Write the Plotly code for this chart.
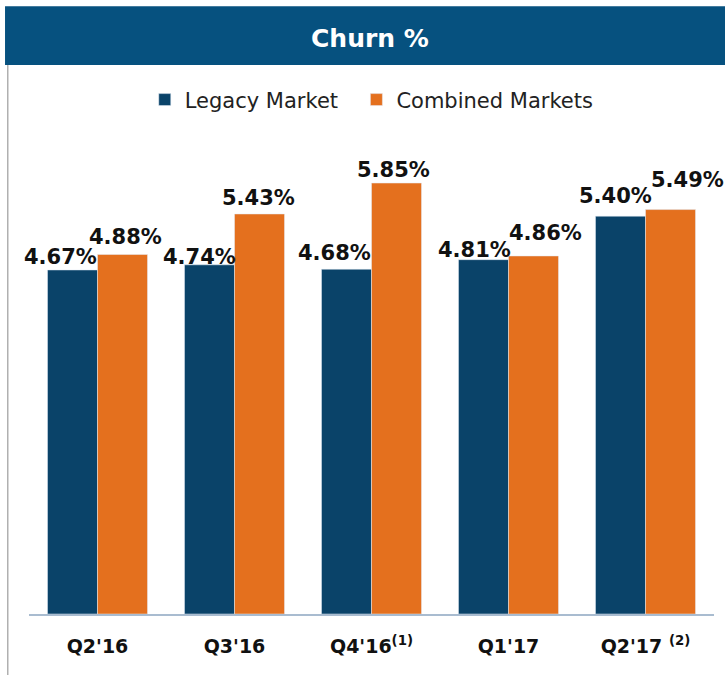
import plotly.graph_objects as go

categories = ["Q2'16", "Q3'16", "Q4'16<sup>(1)</sup>", "Q1'17", "Q2'17 <sup>(2)</sup>"]
series_names = ["Legacy Market", "Combined Markets"]
legacy = [4.67, 4.74, 4.68, 4.81, 5.40]
combined = [4.88, 5.43, 5.85, 4.86, 5.49]
legacy_labels = ["4.67%", "4.74%", "4.68%", "4.81%", "5.40%"]
combined_labels = ["4.88%", "5.43%", "5.85%", "4.86%", "5.49%"]

# label placement offsets relative to each bar's top centre (pixels)
legacy_dx = [-12, -10, -12, -9, -5]
legacy_dy = [-1, -6, 2, -4, 6]
combined_dx = [3, -1, -3, 12, 17]
combined_dy = [4, 2, -1, 9, 16]

BLUE = "#0a4369"
ORANGE = "#e4701e"
BAR_TITLE = "#06517f"
FONT = "DejaVu Sans"
BAR_HALF = 25  # half of a bar width in px, used to anchor labels over each bar
PAD = "\u00a0\u00a0"  # extra legend spacing after first entry

fig = go.Figure()
fig.add_trace(go.Bar(x=categories, y=legacy, name=series_names[0] + PAD, marker_color=BLUE))
fig.add_trace(go.Bar(x=categories, y=combined, name=series_names[1], marker_color=ORANGE))

annotations = []
for i, c in enumerate(categories):
    annotations.append(dict(x=c, y=legacy[i], text="<b>%s</b>" % legacy_labels[i], showarrow=False,
                            xref="x", yref="y", xanchor="center", yanchor="bottom",
                            xshift=-BAR_HALF + legacy_dx[i], yshift=legacy_dy[i],
                            font=dict(family=FONT, size=21, color="#111111")))
    annotations.append(dict(x=c, y=combined[i], text="<b>%s</b>" % combined_labels[i], showarrow=False,
                            xref="x", yref="y", xanchor="center", yanchor="bottom",
                            xshift=BAR_HALF + combined_dx[i], yshift=combined_dy[i],
                            font=dict(family=FONT, size=21, color="#111111")))

annotations.append(dict(x=0.498, y=1.303, xref="paper", yref="paper", text="<b>Churn %</b>",
                        showarrow=False, xanchor="center", yanchor="middle",
                        font=dict(family=FONT, size=25, color="white")))

shapes = [
    dict(type="rect", xref="paper", yref="paper", x0=-0.035, x1=1.02, y0=1.242, y1=1.375,
         fillcolor=BAR_TITLE, line=dict(width=0), layer="below"),
    dict(type="line", xref="paper", yref="paper", x0=-0.031, x1=-0.031, y0=1.242, y1=-0.14,
         line=dict(color="#b0b0b0", width=1.5)),
]

fig.update_layout(
    width=725, height=675,
    margin=dict(l=29, r=11, t=172, b=61, autoexpand=False),
    paper_bgcolor="white", plot_bgcolor="white",
    barmode="group", bargap=0.27, bargroupgap=0,
    showlegend=True,
    legend=dict(orientation="h", x=0.169, y=1.163, xanchor="left", yanchor="middle",
                font=dict(family=FONT, size=21, color="#222222"), itemwidth=30,
                traceorder="normal", bgcolor="rgba(0,0,0,0)"),
    xaxis=dict(showline=True, linecolor="#a9bcd0", linewidth=1.5, ticks="",
               range=[-0.5, 4.5], automargin=False,
               tickfont=dict(family=FONT, size=19, color="#111111", weight="bold"), showgrid=False),
    yaxis=dict(range=[0, 6], visible=False, showgrid=False, automargin=False),
    annotations=annotations,
    shapes=shapes,
)
fig.update_xaxes(ticklabelstandoff=14)
fig.write_html("out.html", config={"displayModeBar": False},
               post_script="document.body.style.margin='0';document.body.style.overflow='hidden';")
